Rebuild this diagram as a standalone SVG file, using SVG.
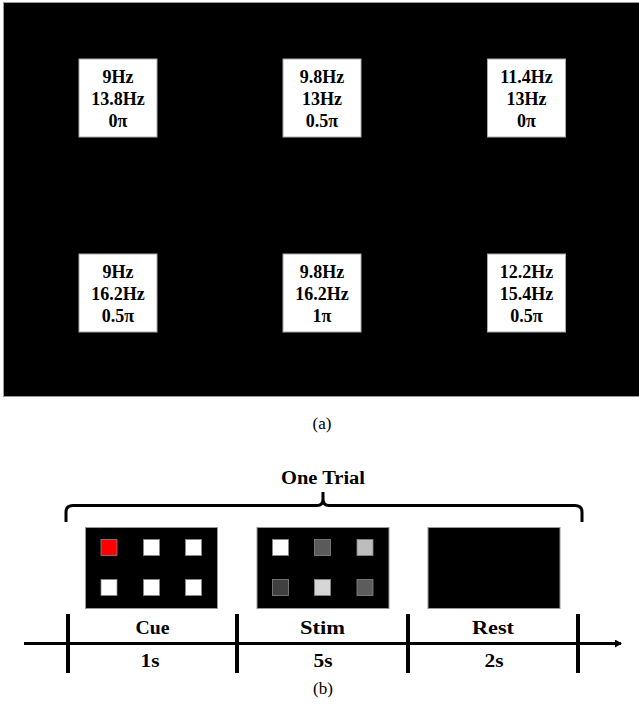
<svg xmlns="http://www.w3.org/2000/svg" width="639" height="715" viewBox="0 0 639 715">
<style>
.t{font-family:"Liberation Serif","Times New Roman",serif;font-weight:bold;font-size:18px;text-anchor:middle;fill:#000}
.b{font-family:"Liberation Serif","Times New Roman",serif;font-weight:bold;font-size:18px;text-anchor:middle;fill:#000}
.cap{font-family:"Liberation Serif","Times New Roman",serif;font-size:17px;text-anchor:middle;fill:#000}
.box{fill:#fff;stroke:#aaa;stroke-width:1}
.scr{fill:#000;stroke:#999;stroke-width:1}
.sq{stroke:#888;stroke-width:0.8}
.ln{stroke:#000;fill:none}
</style>
<defs>
<marker id="ah" markerWidth="8" markerHeight="8" refX="6" refY="4" orient="auto" markerUnits="userSpaceOnUse">
<path d="M0,0 L7,4 L0,8 Z" fill="#000"/>
</marker>
</defs>
<rect x="3.5" y="2.5" width="640" height="394" class="scr"/>
<g id="n1"><rect x="79" y="59" width="78" height="78" class="box"/>
<text class="t" x="118" y="83">9Hz</text><text class="t" x="118" y="105">13.8Hz</text><text class="t" x="118" y="127">0π</text></g>
<g id="n2"><rect x="283" y="59" width="78" height="78" class="box"/>
<text class="t" x="322" y="83">9.8Hz</text><text class="t" x="322" y="105">13Hz</text><text class="t" x="322" y="127">0.5π</text></g>
<g id="n3"><rect x="487.5" y="59" width="78" height="78" class="box"/>
<text class="t" x="526.5" y="83">11.4Hz</text><text class="t" x="526.5" y="105">13Hz</text><text class="t" x="526.5" y="127">0π</text></g>
<g id="n4"><rect x="79" y="254" width="78" height="78" class="box"/>
<text class="t" x="118" y="278">9Hz</text><text class="t" x="118" y="300">16.2Hz</text><text class="t" x="118" y="322">0.5π</text></g>
<g id="n5"><rect x="283" y="254" width="78" height="78" class="box"/>
<text class="t" x="322" y="278">9.8Hz</text><text class="t" x="322" y="300">16.2Hz</text><text class="t" x="322" y="322">1π</text></g>
<g id="n6"><rect x="487.5" y="254" width="78" height="78" class="box"/>
<text class="t" x="526.5" y="278">12.2Hz</text><text class="t" x="526.5" y="300">15.4Hz</text><text class="t" x="526.5" y="322">0.5π</text></g>
<text class="cap" x="322" y="429">(a)</text>

<text class="b" x="323" y="484" textLength="84" lengthAdjust="spacingAndGlyphs">One Trial</text>
<path class="ln" stroke-width="3" d="M66,522 L66,512 Q66,505.5 73,505.5 L317,505.5 Q323,505.5 323,499 L323,492 M323,492 L323,499 Q323,505.5 329,505.5 L575,505.5 Q582,505.5 582,512 L582,522"/>

<g id="cue"><rect x="85.5" y="527.5" width="132" height="81" class="scr"/>
<rect x="101" y="539.5" width="16" height="16" fill="#ff0000" class="sq"/>
<rect x="143.5" y="539.5" width="16" height="16" fill="#fff" class="sq"/>
<rect x="185.5" y="539.5" width="16" height="16" fill="#fff" class="sq"/>
<rect x="101" y="579.5" width="16" height="16" fill="#fff" class="sq"/>
<rect x="143.5" y="579.5" width="16" height="16" fill="#fff" class="sq"/>
<rect x="185.5" y="579.5" width="16" height="16" fill="#fff" class="sq"/></g>
<g id="stim"><rect x="257" y="527.5" width="132" height="81" class="scr"/>
<rect x="272.5" y="539.5" width="16" height="16" fill="#fff" class="sq"/>
<rect x="314.5" y="539.5" width="16" height="16" fill="#5a5a5a" class="sq"/>
<rect x="357" y="539.5" width="16" height="16" fill="#bdbdbd" class="sq"/>
<rect x="272.5" y="579.5" width="16" height="16" fill="#404040" class="sq"/>
<rect x="314.5" y="579.5" width="16" height="16" fill="#d6d6d6" class="sq"/>
<rect x="357" y="579.5" width="16" height="16" fill="#5c5c5c" class="sq"/></g>
<g id="rest"><rect x="428" y="527.5" width="132" height="81" class="scr"/></g>

<g id="connectors">
<line class="ln" stroke-width="3" x1="24" y1="643.5" x2="621" y2="643.5" marker-end="url(#ah)"/>
<line class="ln" stroke-width="4" x1="68" y1="614" x2="68" y2="673"/>
<line class="ln" stroke-width="4" x1="237" y1="614" x2="237" y2="673"/>
<line class="ln" stroke-width="4" x1="408" y1="614" x2="408" y2="673"/>
<line class="ln" stroke-width="4" x1="578" y1="614" x2="578" y2="673"/>
</g>
<text class="b" x="152.5" y="634" textLength="34" lengthAdjust="spacingAndGlyphs">Cue</text>
<text class="b" x="322.5" y="634" textLength="45" lengthAdjust="spacingAndGlyphs">Stim</text>
<text class="b" x="493" y="634" textLength="42" lengthAdjust="spacingAndGlyphs">Rest</text>
<text class="b" x="150" y="667" textLength="19" lengthAdjust="spacingAndGlyphs">1s</text>
<text class="b" x="323" y="667" textLength="19" lengthAdjust="spacingAndGlyphs">5s</text>
<text class="b" x="494" y="667" textLength="19" lengthAdjust="spacingAndGlyphs">2s</text>
<text class="cap" x="323" y="694">(b)</text>
</svg>
